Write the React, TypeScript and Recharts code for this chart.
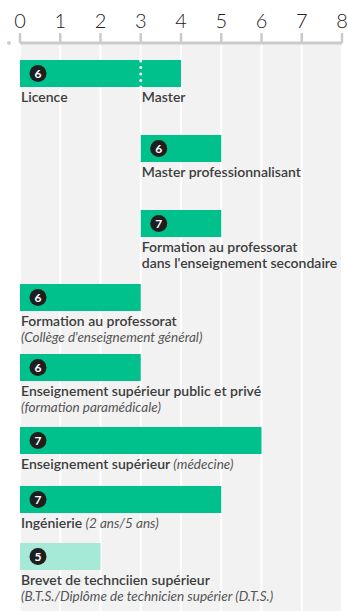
import { Bar, BarChart, CartesianGrid, LabelList, ReferenceLine, XAxis, YAxis } from "recharts";

const ticks = [0, 1, 2, 3, 4, 5, 6, 7, 8];

const names = [
  "Licence",
  "Master professionnalisant",
  "Formation au professorat",
  "Formation au professorat",
  "Enseignement supérieur public et privé",
  "Enseignement supérieur",
  "Ingénierie",
  "Brevet de technciien supérieur",
];
const secondLines = [
  "",
  "",
  "dans l'enseignement secondaire",
  "",
  "",
  "",
  "",
  "",
];
const notes = [
  "",
  "",
  "",
  "(Collège d'enseignement général)",
  "(formation paramédicale)",
  "",
  "",
  "(B.T.S./Diplôme de technicien supérier (D.T.S.)",
];
const inlineNotes = ["", "", "", "", "", "(médecine)", "(2 ans/5 ans)", ""];
const starts = [0, 3, 3, 0, 0, 0, 0, 0];
const ends = [4, 5, 5, 3, 3, 6, 5, 2];
const badges = [6, 6, 7, 6, 6, 7, 7, 5];
const faded = [false, false, false, false, false, false, false, true];
// Licence row is split: Licence up to 3, Master from 3
const splitAt = [3, null, null, null, null, null, null, null];
const splitName = ["Master", "", "", "", "", "", "", ""];

// layout
const W = 348;
const H = 611;
const margin = { left: 20, right: 6 };
const rowTops = [60, 135, 210, 284, 354, 427, 486, 543];
const barH = 27;
const font = "Lato, 'Noto Sans', sans-serif";
const green = "#00c08b";
const greenLight = "#a6e9d7";
const textColor = "#3d3d3d";
const noteColor = "#555";

function RowLabel(props: any) {
  const { x, y, width, height, index, row } = props;
  if (index !== 0) return null;
  const ty = y + height + 15;
  const split = splitAt[row];
  const splitX =
    split != null ? x + (width * (split - starts[row])) / (ends[row] - starts[row]) : 0;
  return (
    <g style={{ fontFamily: font }}>
      <circle cx={x + 18} cy={y + height / 2} r={8.5} fill="#1e1e1e" />
      <text
        x={x + 18}
        y={y + height / 2 + 4.2}
        textAnchor="middle"
        fill="#fff"
        fontSize={12}
        fontWeight={700}
      >
        {badges[row]}
      </text>
      <text x={x + 1} y={ty} fill={textColor} fontSize={14} fontWeight={600}>
        {names[row]}
        {inlineNotes[row] ? (
          <tspan fontStyle="italic" fontWeight={400} fontSize={13.5} fill={noteColor}>
            {" " + inlineNotes[row]}
          </tspan>
        ) : null}
      </text>
      {secondLines[row] ? (
        <text x={x + 1} y={ty + 16} fill={textColor} fontSize={14} fontWeight={600}>
          {secondLines[row]}
        </text>
      ) : null}
      {notes[row] ? (
        <text x={x + 1} y={ty + 16} fill={noteColor} fontSize={13.5} fontStyle="italic">
          {notes[row]}
        </text>
      ) : null}
      {split != null ? (
        <text x={splitX + 1} y={ty} fill={textColor} fontSize={14} fontWeight={600}>
          {splitName[row]}
        </text>
      ) : null}
    </g>
  );
}

function Row({ row }: { row: number }) {
  const split = splitAt[row];
  const data = [{ name: names[row], range: [starts[row], ends[row]] }];
  return (
    <div style={{ position: "absolute", left: 0, top: rowTops[row] }}>
      <BarChart
        width={W}
        height={barH + 50}
        data={data}
        layout="vertical"
        margin={{ top: 0, bottom: 50, left: margin.left, right: margin.right }}
        barCategoryGap={0}
        barGap={0}
      >
        <XAxis type="number" domain={[0, 8]} ticks={ticks} allowDataOverflow hide />
        <YAxis type="category" dataKey="name" hide />
        <Bar dataKey="range" fill={faded[row] ? greenLight : green} isAnimationActive={false}>
          <LabelList content={(p: any) => <RowLabel {...p} row={row} />} />
        </Bar>
        {split != null ? (
          <ReferenceLine
            x={split}
            stroke="#fff"
            strokeWidth={3}
            strokeLinecap="round"
            strokeDasharray="0 6.5"
          />
        ) : null}
      </BarChart>
    </div>
  );
}

const backdrop = ends.map((e, i) => ({ name: names[i] + i, end: e }));

export default function App() {
  return (
    <div style={{ position: "relative", width: W, height: H, background: "#fff", fontFamily: font }}>
      <style>{`body{margin:0}`}</style>
      <div style={{ position: "absolute", left: 0, top: 0 }}>
        <BarChart
          width={W}
          height={H}
          data={backdrop}
          layout="vertical"
          margin={{ top: 0, bottom: 0, left: margin.left, right: margin.right }}
        >
          <CartesianGrid horizontal={false} stroke="#fff" strokeWidth={2} fill="#f2f2f2" />
          <XAxis
            type="number"
            orientation="top"
            domain={[0, 8]}
            ticks={ticks}
            interval={0}
            allowDataOverflow
            height={43}
            axisLine={{ stroke: "#cbcbcb", strokeWidth: 3 }}
            tickLine={{ stroke: "#cbcbcb", strokeWidth: 2.5 }}
            tickSize={10}
            tickMargin={5}
            tick={{ fill: "#222", fontSize: 20, fontWeight: 300, fontFamily: font }}
          />
          <YAxis type="category" dataKey="name" hide />
          <Bar dataKey="end" fill="none" fillOpacity={0} isAnimationActive={false} />
        </BarChart>
        <svg width={20} height={60} style={{ position: "absolute", left: 0, top: 0 }}>
          <circle cx={9} cy={43} r={2} fill="#cfcfcf" />
        </svg>
      </div>
      {names.map((_, i) => (
        <Row key={i} row={i} />
      ))}
    </div>
  );
}
